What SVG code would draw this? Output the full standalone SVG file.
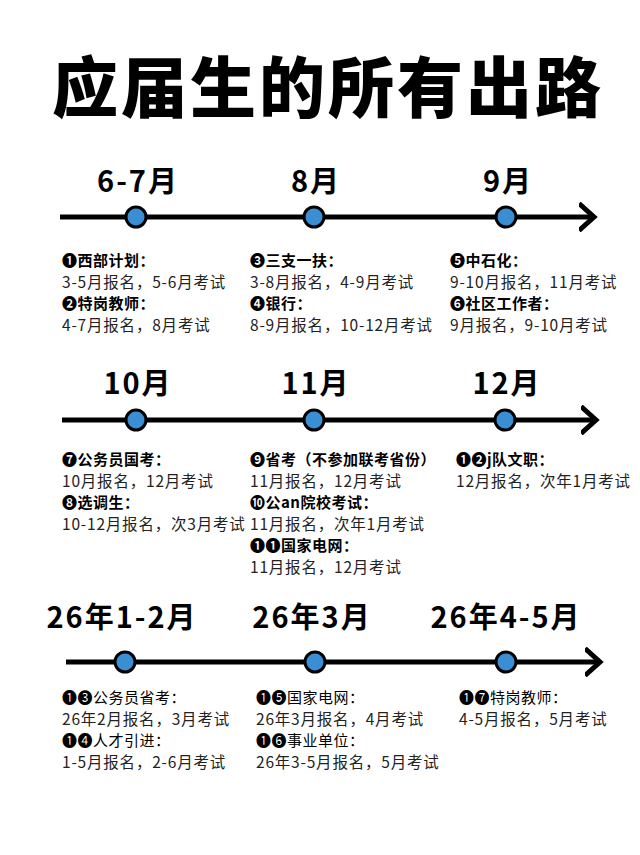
<svg xmlns="http://www.w3.org/2000/svg" width="640" height="855" viewBox="0 0 640 855">
<style>
text{font-family:"Noto Sans CJK SC","DejaVu Sans",sans-serif;fill:#000}
.t{font-size:66px;font-weight:900;letter-spacing:3px}
.m{font-size:29px;font-weight:700;text-anchor:middle;letter-spacing:2px}
.h{font-size:15px;font-weight:700;letter-spacing:0.5px}
.hn{font-size:15px;letter-spacing:0.5px}
.b{font-size:15.5px;fill:#222;letter-spacing:0.8px}
.ln{stroke:#000;stroke-width:5}
.dot{fill:#3a8fd4;stroke:#000;stroke-width:3}
</style>
<defs><marker id="ar" markerWidth="6" markerHeight="6" refX="3" refY="3" orient="auto" markerUnits="strokeWidth"><path d="M0,0.3 L3,3 L0,5.7" fill="none" stroke="#000" stroke-width="1"/></marker></defs>
<rect width="640" height="855" fill="#fff"/>
<text class="t" x="328" y="112" text-anchor="middle">应届生的所有出路</text>
<g id="connectors">
<line class="ln" x1="60" y1="217" x2="594" y2="217" marker-end="url(#ar)"/>
<line class="ln" x1="62" y1="420" x2="596" y2="420" marker-end="url(#ar)"/>
<line class="ln" x1="66" y1="662" x2="600" y2="662" marker-end="url(#ar)"/>
</g>
<g id="n1"><text class="m" x="138" y="192">6-7月</text><circle class="dot" cx="136" cy="217" r="10"/>
<text class="h" x="62" y="266">❶西部计划：</text><text class="b" x="62" y="288">3-5月报名，5-6月考试</text><text class="h" x="62" y="309">❷特岗教师：</text><text class="b" x="62" y="331">4-7月报名，8月考试</text></g>
<g id="n2"><text class="m" x="316" y="192">8月</text><circle class="dot" cx="314" cy="217" r="10"/>
<text class="h" x="250" y="266">❸三支一扶：</text><text class="b" x="250" y="288">3-8月报名，4-9月考试</text><text class="h" x="250" y="309">❹银行：</text><text class="b" x="250" y="331">8-9月报名，10-12月考试</text></g>
<g id="n3"><text class="m" x="508" y="192">9月</text><circle class="dot" cx="506" cy="217" r="10"/>
<text class="h" x="450" y="266">❺中石化：</text><text class="b" x="450" y="288">9-10月报名，11月考试</text><text class="h" x="450" y="309">❻社区工作者：</text><text class="b" x="450" y="331">9月报名，9-10月考试</text></g>
<g id="n4"><text class="m" x="138" y="394">10月</text><circle class="dot" cx="136" cy="420" r="10"/>
<text class="h" x="62" y="465">❼公务员国考：</text><text class="b" x="62" y="487">10月报名，12月考试</text><text class="h" x="62" y="508">❽选调生：</text><text class="b" x="62" y="530">10-12月报名，次3月考试</text></g>
<g id="n5"><text class="m" x="316" y="394">11月</text><circle class="dot" cx="314" cy="420" r="10"/>
<text class="h" x="250" y="465">❾省考（不参加联考省份）</text><text class="b" x="250" y="487">11月报名，12月考试</text><text class="h" x="250" y="508">❿公an院校考试：</text><text class="b" x="250" y="530">11月报名，次年1月考试</text><text class="h" x="250" y="551">❶❶国家电网：</text><text class="b" x="250" y="573">11月报名，12月考试</text></g>
<g id="n6"><text class="m" x="507" y="394">12月</text><circle class="dot" cx="505" cy="420" r="10"/>
<text class="h" x="456" y="465">❶❷j队文职：</text><text class="b" x="456" y="487">12月报名，次年1月考试</text></g>
<g id="n7"><text class="m" x="122" y="628">26年1-2月</text><circle class="dot" cx="125" cy="662" r="10"/>
<text class="hn" x="62" y="703">❶❸公务员省考：</text><text class="b" x="62" y="725">26年2月报名，3月考试</text><text class="hn" x="62" y="746">❶❹人才引进：</text><text class="b" x="62" y="768">1-5月报名，2-6月考试</text></g>
<g id="n8"><text class="m" x="312" y="628">26年3月</text><circle class="dot" cx="315" cy="662" r="10"/>
<text class="hn" x="256" y="703">❶❺国家电网：</text><text class="b" x="256" y="725">26年3月报名，4月考试</text><text class="hn" x="256" y="746">❶❻事业单位：</text><text class="b" x="256" y="768">26年3-5月报名，5月考试</text></g>
<g id="n9"><text class="m" x="506" y="628">26年4-5月</text><circle class="dot" cx="506" cy="662" r="10"/>
<text class="hn" x="459" y="703">❶❼特岗教师：</text><text class="b" x="459" y="725">4-5月报名，5月考试</text></g>
</svg>
